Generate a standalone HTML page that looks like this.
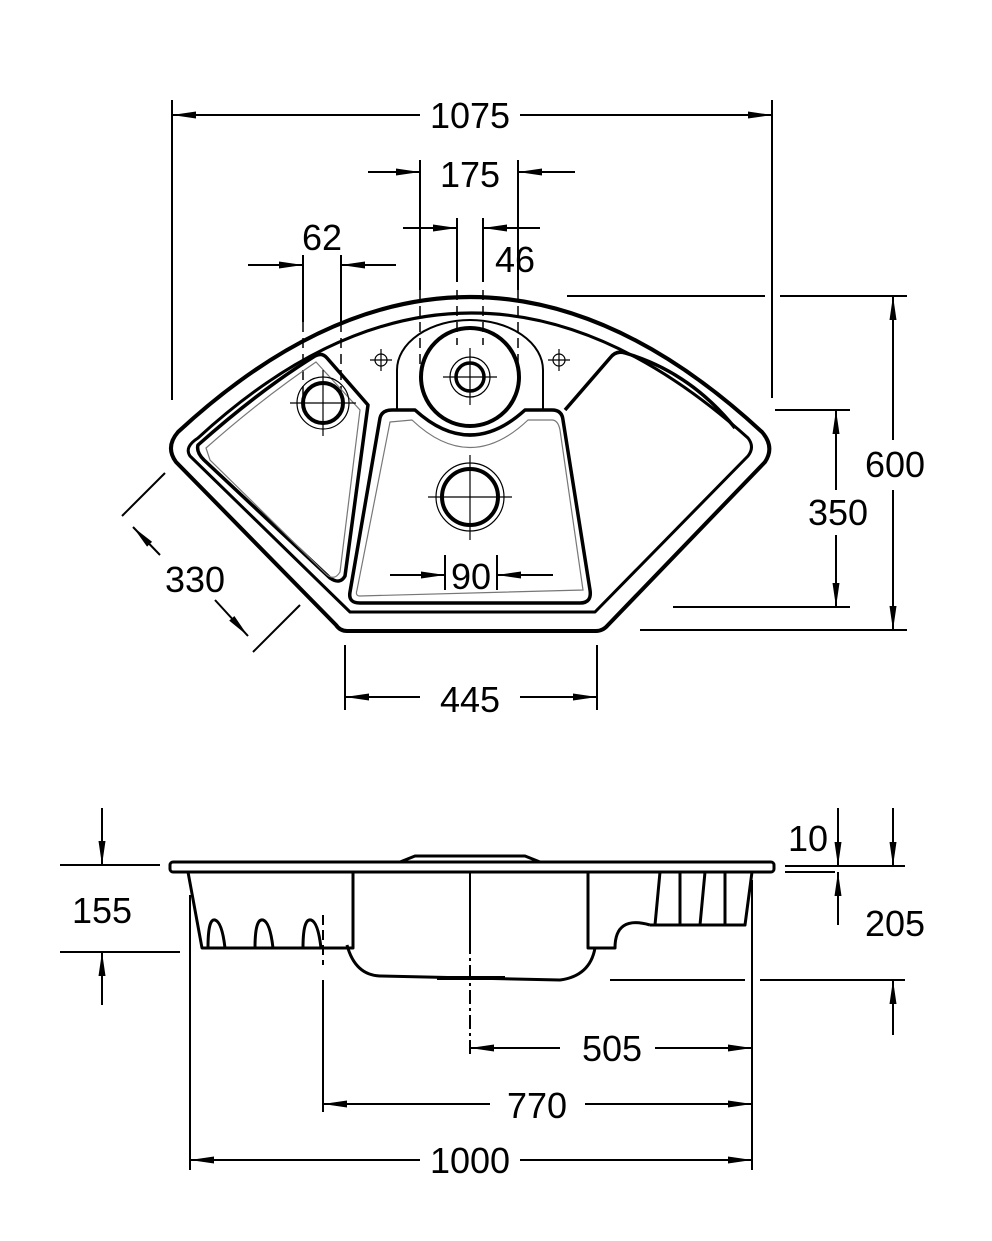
<!DOCTYPE html>
<html><head><style>
html,body{margin:0;padding:0;background:#fff;}
svg{display:block;}
text{font-family:"Liberation Sans",Arial,sans-serif;font-size:36px;fill:#000;text-anchor:middle;}
</style></head><body>
<svg width="992" height="1241" viewBox="0 0 992 1241" xmlns="http://www.w3.org/2000/svg">
<defs>
<marker id="b" viewBox="0 0 24 10" refX="24" refY="5" markerWidth="24" markerHeight="10" markerUnits="userSpaceOnUse" orient="auto"><path d="M0,1.5 L24,5 L0,8.5z" fill="#000"/></marker>
</defs>
<g fill="none" stroke="#000" stroke-width="2">
<line x1="172" y1="100" x2="172" y2="400"/><line x1="772" y1="100" x2="772" y2="398"/>
<line x1="420" y1="115" x2="172" y2="115" marker-end="url(#b)"/>
<line x1="520" y1="115" x2="772" y2="115" marker-end="url(#b)"/>
<line x1="368" y1="172" x2="420" y2="172" marker-end="url(#b)"/>
<line x1="575" y1="172" x2="518" y2="172" marker-end="url(#b)"/>
<line x1="420" y1="160" x2="420" y2="290"/><line x1="518" y1="160" x2="518" y2="290"/>
<line x1="403" y1="228" x2="457" y2="228" marker-end="url(#b)"/>
<line x1="540" y1="228" x2="483" y2="228" marker-end="url(#b)"/>
<line x1="457" y1="218" x2="457" y2="282"/><line x1="483" y1="218" x2="483" y2="282"/>
<line x1="248" y1="265" x2="303" y2="265" marker-end="url(#b)"/>
<line x1="396" y1="265" x2="341" y2="265" marker-end="url(#b)"/>
<line x1="303" y1="255" x2="303" y2="322"/><line x1="341" y1="255" x2="341" y2="322"/>
<line x1="567" y1="296" x2="765" y2="296"/><line x1="780" y1="296" x2="907" y2="296"/>
<line x1="640" y1="630" x2="907" y2="630"/>
<line x1="893" y1="440" x2="893" y2="296" marker-end="url(#b)"/>
<line x1="893" y1="490" x2="893" y2="630" marker-end="url(#b)"/>
<line x1="775" y1="410" x2="850" y2="410"/><line x1="673" y1="607" x2="850" y2="607"/>
<line x1="836" y1="490" x2="836" y2="410" marker-end="url(#b)"/>
<line x1="836" y1="535" x2="836" y2="607" marker-end="url(#b)"/>
<line x1="122" y1="516" x2="165" y2="473"/><line x1="253" y1="652" x2="300" y2="605"/>
<line x1="160" y1="555" x2="133" y2="527" marker-end="url(#b)"/>
<line x1="215" y1="600" x2="248" y2="636" marker-end="url(#b)"/>
<line x1="345" y1="645" x2="345" y2="710"/><line x1="597" y1="645" x2="597" y2="710"/>
<line x1="420" y1="697" x2="345" y2="697" marker-end="url(#b)"/>
<line x1="520" y1="697" x2="597" y2="697" marker-end="url(#b)"/>
<line x1="445" y1="555" x2="445" y2="590"/><line x1="497" y1="555" x2="497" y2="590"/>
<line x1="390" y1="575" x2="445" y2="575" marker-end="url(#b)"/>
<line x1="553" y1="575" x2="497" y2="575" marker-end="url(#b)"/>
</g>
<g fill="none" stroke="#000" stroke-width="1.5" stroke-dasharray="10,6">
<line x1="303" y1="322" x2="303" y2="400"/><line x1="341" y1="322" x2="341" y2="400"/>
<line x1="420" y1="290" x2="420" y2="370"/><line x1="518" y1="290" x2="518" y2="370"/>
<line x1="457" y1="290" x2="457" y2="345"/><line x1="483" y1="290" x2="483" y2="345"/>
</g>
<g fill="none" stroke="#000" stroke-width="4" stroke-linejoin="round">
<path d="M178,432 Q470,162 762,432 Q775,447 765,462 L608,625 Q603,631 596,631 L347,631 Q340,631 336,625 L176,462 Q165,447 178,432z"/>
<path d="M198,438 Q470,188 748,438 Q755,447 748,456 L595,612 L350,612 L190,456 Q184,447 198,438z" stroke-width="3"/>
<path d="M198,445 Q260,390 315,356 Q322,352 327,358 L368,405 L345,576 Q340,585 330,578 L204,460 Q196,452 198,445z" stroke-width="3.5"/>
<path d="M380,418 Q382,410 392,410 L415,410 Q470,460 525,410 L552,410 Q562,410 563,420 L590,590 Q592,603 580,603 L360,603 Q348,603 350,592z" stroke-width="3.5"/>
<path d="M565,410 L610,358 Q616,350 625,353 Q690,372 735,428" stroke-width="3.5"/>
<path d="M397,410 L397,370 A73,50 0 0 1 543,370 L543,410" stroke-width="2"/>
<circle cx="470" cy="377" r="49" stroke-width="4"/>
<circle cx="470" cy="497" r="28" stroke-width="4"/>
<circle cx="323" cy="403" r="20" stroke-width="4"/>
<circle cx="470" cy="377" r="14" stroke-width="3.5"/>
</g>
<g fill="none" stroke="#000" stroke-width="1.2">
<path d="M206,448 Q260,400 316,362 L360,410 L340,572 Q334,582 325,573 L210,460z" stroke="#777"/>
<path d="M390,422 L412,420 Q470,475 528,420 L552,420 Q558,420 560,430 L583,590 L360,596 Q355,596 357,590z" stroke="#777"/>
<circle cx="470" cy="497" r="34"/><circle cx="323" cy="403" r="26"/><circle cx="470" cy="377" r="20"/>
<line x1="428" y1="497" x2="512" y2="497"/><line x1="470" y1="455" x2="470" y2="540"/>
<line x1="290" y1="403" x2="356" y2="403"/><line x1="323" y1="370" x2="323" y2="436"/>
<line x1="443" y1="377" x2="497" y2="377"/><line x1="470" y1="348" x2="470" y2="405"/>
<circle cx="381" cy="360" r="6"/><line x1="370" y1="360" x2="392" y2="360"/><line x1="381" y1="349" x2="381" y2="371"/>
<circle cx="559" cy="360" r="6"/><line x1="548" y1="360" x2="570" y2="360"/><line x1="559" y1="349" x2="559" y2="371"/>
</g>
<g fill="none" stroke="#000" stroke-width="3" stroke-linejoin="round">
<rect x="170" y="862" width="604" height="10" rx="3"/>
<path d="M400,862 L415,856 L525,856 L540,862"/>
<path d="M188,872 L202,948 L353,948 L353,872"/>
<path d="M588,872 L588,948 L615,948 Q615,915 650,925"/>
<path d="M650,925 L745,925 L752,872"/>
<path d="M347,945 Q355,975 380,976 L560,980 Q590,976 595,948"/>
<path d="M437,978 L505,978" stroke-width="4"/>
<path d="M208,948 Q208,918 215,920 Q222,922 225,948 M255,948 Q255,918 263,920 Q270,922 273,948 M303,948 Q303,918 311,920 Q318,922 321,948"/>
<path d="M655,925 L660,872 M680,925 L680,872 M700,925 L705,872 M725,925 L725,872"/>
<line x1="470" y1="872" x2="470" y2="940" stroke-width="2"/>
</g>
<g fill="none" stroke="#000" stroke-width="2">
<line x1="470" y1="940" x2="470" y2="1055" stroke-dasharray="14,4,3,4"/>
<line x1="190" y1="895" x2="190" y2="1170"/><line x1="752" y1="880" x2="752" y2="1170"/>
<line x1="323" y1="915" x2="323" y2="965" stroke-dasharray="10,5"/><line x1="323" y1="980" x2="323" y2="1112"/>
<line x1="560" y1="1048" x2="470" y2="1048" marker-end="url(#b)"/><line x1="655" y1="1048" x2="752" y2="1048" marker-end="url(#b)"/>
<line x1="490" y1="1104" x2="323" y2="1104" marker-end="url(#b)"/><line x1="585" y1="1104" x2="752" y2="1104" marker-end="url(#b)"/>
<line x1="420" y1="1160" x2="190" y2="1160" marker-end="url(#b)"/><line x1="520" y1="1160" x2="752" y2="1160" marker-end="url(#b)"/>
<line x1="60" y1="865" x2="160" y2="865"/><line x1="60" y1="952" x2="180" y2="952"/>
<line x1="102" y1="808" x2="102" y2="865" marker-end="url(#b)"/>
<line x1="102" y1="1005" x2="102" y2="952" marker-end="url(#b)"/>
<line x1="785" y1="866" x2="905" y2="866"/><line x1="785" y1="872" x2="835" y2="872"/>
<line x1="838" y1="808" x2="838" y2="866" marker-end="url(#b)"/>
<line x1="838" y1="925" x2="838" y2="872" marker-end="url(#b)"/>
<line x1="893" y1="808" x2="893" y2="866" marker-end="url(#b)"/>
<line x1="610" y1="980" x2="745" y2="980"/><line x1="760" y1="980" x2="905" y2="980"/>
<line x1="893" y1="1035" x2="893" y2="980" marker-end="url(#b)"/>
</g>
<text x="470" y="128">1075</text>
<text x="470" y="187">175</text>
<text x="515" y="272">46</text>
<text x="322" y="250">62</text>
<text x="895" y="477">600</text>
<text x="838" y="525">350</text>
<text x="195" y="592">330</text>
<text x="470" y="712">445</text>
<text x="471" y="589">90</text>
<text x="102" y="923">155</text>
<text x="808" y="851">10</text>
<text x="895" y="936">205</text>
<text x="612" y="1061">505</text>
<text x="537" y="1118">770</text>
<text x="470" y="1173">1000</text>
</svg>
</body></html>
